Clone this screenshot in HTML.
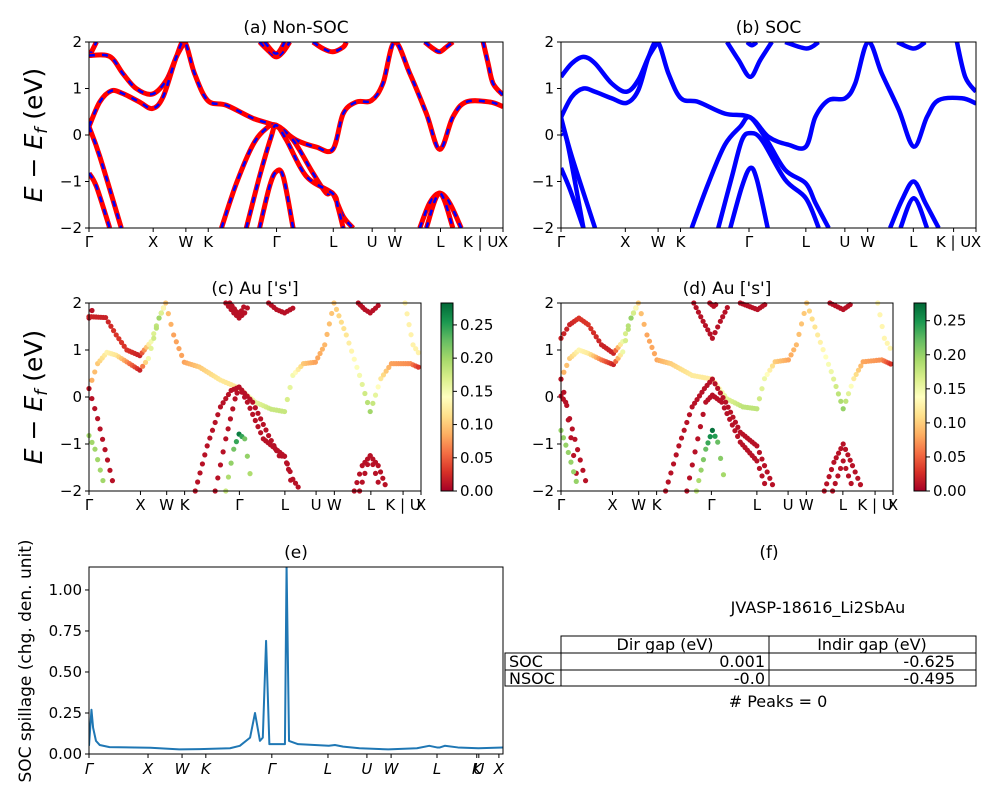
<!DOCTYPE html>
<html><head><meta charset="utf-8"><style>
html,body{margin:0;padding:0;background:#fff}
svg{display:block;font-family:"DejaVu Sans","Liberation Sans",sans-serif}
</style></head><body>
<svg id="fig" width="1000" height="800" viewBox="0 0 1000 800" xmlns="http://www.w3.org/2000/svg">
<defs>
<clipPath id="clipA"><rect x="89" y="42" width="414" height="186"/></clipPath>
<clipPath id="clipB"><rect x="561" y="42" width="415" height="186"/></clipPath>
<clipPath id="clipC"><rect x="86" y="300" width="338" height="194"/></clipPath>
<clipPath id="clipD"><rect x="558" y="300" width="338" height="194"/></clipPath>
<clipPath id="clipE"><rect x="89" y="567" width="414" height="187"/></clipPath>
<linearGradient id="cmapGrad" x1="0" y1="1" x2="0" y2="0">
<stop offset="0" stop-color="#a50026"/><stop offset=".1" stop-color="#d73027"/><stop offset=".2" stop-color="#f46d43"/><stop offset=".3" stop-color="#fdae61"/><stop offset=".4" stop-color="#fee08b"/><stop offset=".5" stop-color="#ffffbf"/><stop offset=".6" stop-color="#d9ef8b"/><stop offset=".7" stop-color="#a6d96a"/><stop offset=".8" stop-color="#66bd63"/><stop offset=".9" stop-color="#1a9850"/><stop offset="1" stop-color="#006837"/>
</linearGradient>
</defs>
<g id="root"></g>
<g font-size="16">
<text x="769" y="558" text-anchor="middle" font-size="17">(f)</text>
<text x="818" y="613" text-anchor="middle">JVASP-18616_Li2SbAu</text>
<g fill="none" stroke="#000" stroke-width="1">
<rect x="561" y="636" width="415" height="50"/>
<rect x="505" y="653" width="471" height="33"/>
<line x1="561" y1="653" x2="561" y2="686"/>
<line x1="769" y1="636" x2="769" y2="686"/>
<line x1="505" y1="670" x2="976" y2="670"/>
</g>
<text x="665" y="650" text-anchor="middle">Dir gap (eV)</text>
<text x="872" y="650" text-anchor="middle">Indir gap (eV)</text>
<text x="509" y="667">SOC</text>
<text x="765" y="667" text-anchor="end">0.001</text>
<text x="955" y="667" text-anchor="end">-0.625</text>
<text x="509" y="684">NSOC</text>
<text x="765" y="684" text-anchor="end">-0.0</text>
<text x="955" y="684" text-anchor="end">-0.495</text>
<text x="778" y="707" text-anchor="middle"># Peaks = 0</text>
</g>
</svg>
<script>
// ---------- data ----------
const symLabels = ["Γ","X","W","K","Γ","L","U","W","L","K | U","X"];
const symK = [0,0.155,0.234,0.288,0.453,0.590,0.684,0.739,0.849,0.946,1];
const energyTicks = [2,1,0,-1,-2];

const nB0 = [[0,1.68],[0.018,2.0]];
const nB1 = [[0,1.71],[0.05,1.69],[0.082,1.32],[0.114,1.0],[0.153,0.88],[0.187,1.18],[0.211,1.68],[0.231,2.0]];
const nB2 = [[0,0.18],[0.026,0.71],[0.054,0.95],[0.082,0.89],[0.122,0.71],[0.153,0.57],[0.179,0.82],[0.211,1.68],[0.231,2.0],[0.255,1.32],[0.287,0.74],[0.332,0.64],[0.396,0.36],[0.452,0.19],[0.501,-0.11],[0.549,-0.26],[0.589,-0.31],[0.614,0.46],[0.646,0.71],[0.682,0.74],[0.710,1.11],[0.738,2.0],[0.775,1.32],[0.815,0.46],[0.847,-0.31],[0.879,0.39],[0.911,0.71],[0.968,0.71],[1,0.61]];
const nB3 = [[0,0.18],[0.026,-0.46],[0.078,-2]];
const nB4 = [[0,-0.82],[0.018,-1.11],[0.05,-2]];
const nB5 = [[0.320,-2],[0.356,-1.04],[0.396,-0.21],[0.428,0.14],[0.452,0.21],[0.493,-0.11],[0.541,-0.82],[0.573,-1.25],[0.589,-1.26],[0.614,-1.75],[0.638,-2]];
const nB6 = [[0.380,-2],[0.412,-0.89],[0.440,-0.04],[0.452,0.21],[0.477,-0.11],[0.525,-0.89],[0.589,-1.26],[0.601,-1.54],[0.614,-2]];
const nB7 = [[0.412,-2],[0.436,-1.11],[0.452,-0.79],[0.469,-0.89],[0.493,-2]];
const nB8 = [[0.799,-2],[0.823,-1.46],[0.847,-1.25],[0.871,-1.46],[0.899,-2]];
const nB9 = [[0.815,-2],[0.847,-1.25],[0.879,-2]];
const nT1 = [[0.412,2],[0.436,1.79],[0.452,1.68],[0.469,1.79],[0.485,2]];
const nT2 = [[0.424,2],[0.452,1.75],[0.473,2]];
const nT3 = [[0.541,2],[0.565,1.86],[0.589,1.79],[0.614,1.89],[0.622,2]];
const nT4 = [[0.811,2],[0.831,1.86],[0.847,1.79],[0.863,1.89],[0.879,2]];
const nT5 = [[0.952,2],[0.964,1.54],[0.976,1.11],[1,0.86]];

const sB1 = [[0,1.25],[0.026,1.54],[0.054,1.68],[0.082,1.54],[0.122,1.11],[0.158,0.93],[0.186,1.18],[0.211,1.68],[0.233,2.0]];
const sB2 = [[0,0.38],[0.026,0.82],[0.054,1.0],[0.082,0.93],[0.122,0.79],[0.158,0.69],[0.186,0.96],[0.211,1.68],[0.233,2.0],[0.259,1.32],[0.289,0.79],[0.331,0.71],[0.395,0.46],[0.456,0.38],[0.5,-0.04],[0.548,-0.21],[0.590,-0.25],[0.613,0.39],[0.645,0.75],[0.685,0.79],[0.709,1.11],[0.740,2.0],[0.773,1.32],[0.814,0.54],[0.85,-0.25],[0.882,0.39],[0.91,0.75],[0.966,0.79],[1,0.68]];
const sB3 = [[0,0.38],[0.026,-0.46],[0.082,-2]];
const sB4 = [[0,0.02],[0.014,-0.11],[0.054,-2]];
const sB5 = [[0,-0.71],[0.022,-1.18],[0.054,-2]];
const sB6 = [[0.315,-2],[0.355,-1.04],[0.395,-0.21],[0.432,0.18],[0.456,0.38],[0.496,-0.11],[0.540,-0.75],[0.590,-1.04],[0.613,-1.46],[0.645,-2]];
const sB7 = [[0.379,-2],[0.412,-0.89],[0.436,-0.11],[0.456,0.04],[0.484,-0.11],[0.540,-0.96],[0.590,-1.36],[0.621,-2]];
const sB8 = [[0.408,-2],[0.436,-1.11],[0.456,-0.71],[0.472,-0.96],[0.498,-2]];
const sB9 = [[0.793,-2],[0.822,-1.39],[0.85,-1.0],[0.878,-1.46],[0.91,-2]];
const sB10 = [[0.818,-2],[0.85,-1.36],[0.882,-2]];
const sT1 = [[0.4,2],[0.428,1.61],[0.456,1.25],[0.48,1.61],[0.508,2]];
const sT2 = [[0.448,2],[0.46,1.93],[0.472,2]];
const sT3 = [[0.54,2],[0.592,1.86],[0.621,2]];
const sT4 = [[0.81,2],[0.85,1.86],[0.878,2]];
const sT5 = [[0.954,2],[0.974,1.25],[1,0.93]];

const wBand1 = [0.02,0.02,0.03,0.03,0.02,0.15,0.2,0.2];
const wBand1s = [0.02,0.02,0.03,0.03,0.02,0.02,0.15,0.2,0.2];
const wBand2 = [0.08,0.1,0.13,0.12,0.06,0.02,0.15,0.2,0.1,0.08,0.08,0.1,0.12,0.12,0.16,0.18,0.18,0.15,0.1,0.08,0.09,0.1,0.12,0.15,0.2,0.12,0.08,0.07,0.02];
const wRed = 0.01;
const wGreen = 0.2;
const wPeak = [0.18,0.22,0.27,0.22,0.18];

const nsocBands = [nB0,nB1,nB2,nB3,nB4,nB5,nB6,nB7,nB8,nB9,nT1,nT2,nT3,nT4,nT5];
const socBands = [sB1,sB2,sB3,sB4,sB5,sB6,sB7,sB8,sB9,sB10,sT1,sT2,sT3,sT4,sT5];
const nsocWeights = [wRed,wBand1,wBand2,wRed,wGreen,wRed,wRed,wPeak,wRed,wRed,wRed,wRed,wRed,wRed,0.13];
const socWeights = [wBand1s,wBand2,wRed,wRed,wGreen,wRed,wRed,wPeak,wRed,wRed,wRed,wRed,wRed,wRed,0.13];

const spillK = [0,0.006,0.01,0.017,0.026,0.05,0.15,0.22,0.27,0.344,0.368,0.393,0.405,0.417,0.424,0.432,0.44,0.442,0.451,0.478,0.482,0.488,0.51,0.585,0.6,0.62,0.66,0.73,0.8,0.83,0.849,0.856,0.868,0.9,0.95,1.01];
const spillV = [0.05,0.27,0.16,0.08,0.055,0.042,0.038,0.028,0.03,0.035,0.05,0.1,0.25,0.08,0.1,0.69,0.06,0.06,0.06,0.06,1.15,0.08,0.06,0.05,0.055,0.045,0.035,0.028,0.035,0.05,0.04,0.04,0.05,0.04,0.035,0.04];
const spillTicks = [0,0.25,0.5,0.75,1.0];
const spillXK = [0,0.144,0.227,0.285,0.446,0.583,0.678,0.737,0.849,0.946,0.951,1.0];
const spillXLabels = ["Γ","X","W","K","Γ","L","U","W","L","K","U","X"];
const cbTicks = [0,0.05,0.10,0.15,0.20,0.25];

// ---------- helpers ----------
const NS="http://www.w3.org/2000/svg";
const root=document.getElementById('root');
function el(tag,attrs,parent){const e=document.createElementNS(NS,tag);for(const k in attrs)e.setAttribute(k,attrs[k]);(parent||root).appendChild(e);return e;}
function txt(s,attrs,parent){const t=el('text',attrs,parent);t.textContent=s;return t;}
function smoothPath(pts){
  if(pts.length<3){return 'M'+pts.map(p=>p[0].toFixed(2)+','+p[1].toFixed(2)).join('L');}
  let d='M'+pts[0][0].toFixed(2)+','+pts[0][1].toFixed(2);
  for(let i=0;i<pts.length-1;i++){
    const p0=pts[i-1]||pts[i],p1=pts[i],p2=pts[i+1],p3=pts[i+2]||p2;
    const c1=[p1[0]+(p2[0]-p0[0])/6,p1[1]+(p2[1]-p0[1])/6];
    const c2=[p2[0]-(p3[0]-p1[0])/6,p2[1]-(p3[1]-p1[1])/6];
    d+='C'+c1[0].toFixed(2)+','+c1[1].toFixed(2)+' '+c2[0].toFixed(2)+','+c2[1].toFixed(2)+' '+p2[0].toFixed(2)+','+p2[1].toFixed(2);
  }
  return d;
}
const cmStops=[[165,0,38],[215,48,39],[244,109,67],[253,174,97],[254,224,139],[255,255,191],[217,239,139],[166,217,106],[102,189,99],[26,152,80],[0,104,55]];
function cmap(t){t=Math.max(0,Math.min(1,t));const f=t*10,i=Math.min(9,Math.floor(f)),r=f-i;const a=cmStops[i],b=cmStops[i+1];return 'rgb('+a.map((v,j)=>Math.round(v+(b[j]-v)*r)).join(',')+')';}

function bandAxes(name,x0,x1,y0,y1,title,showYLabel){
  const g=el('g',{});
  
  
  const sx=k=>x0+k*(x1-x0), sy=E=>y0+(2-E)/4*(y1-y0);
  const t=txt(title,{x:(x0+x1)/2,y:y0-9,'text-anchor':'middle','font-size':17},g);
  
  
  energyTicks.forEach(v=>{
    el('line',{x1:x0-4,x2:x0,y1:sy(v),y2:sy(v),stroke:'#000','stroke-width':1},g);
    const tl=txt(v<0?'\u2212'+Math.abs(v):String(v),{x:x0-7,y:sy(v)+5,'text-anchor':'end','font-size':15},g);
    
    
  });
  symK.forEach((k,i)=>{
    el('line',{x1:sx(k),x2:sx(k),y1:y1,y2:y1+4,stroke:'#000','stroke-width':1},g);
    const tl=txt(symLabels[i],{x:sx(k),y:y1+19,'text-anchor':'middle','font-size':15},g);
    
    
  });
  if(showYLabel){
    const yl=txt('',{transform:'translate(42,'+((y0+y1)/2)+') rotate(-90)','text-anchor':'middle','font-size':25},g);
    
    
    yl.innerHTML='<tspan font-style="italic">E</tspan> \u2212 <tspan font-style="italic">E</tspan><tspan font-style="italic" font-size="17" dy="5">f</tspan><tspan dy="-5"> (eV)</tspan>';
  }
  return {g,sx,sy};
}
function frame(g,x0,x1,y0,y1){el('rect',{x:x0,y:y0,width:x1-x0,height:y1-y0,fill:'none',stroke:'#000','stroke-width':1},g);}

(function(){
  const x0=89,x1=503,y0=42,y1=228;
  const {g,sx,sy}=bandAxes('panel-a-nonsoc',x0,x1,y0,y1,'(a) Non-SOC',true);
  const cg=el('g',{'clip-path':'url(#clipA)'},g);
  nsocBands.forEach((b,i)=>{
    const pts=b.map(p=>[sx(p[0]),sy(p[1])]);
    const d=smoothPath(pts);
    const r=el('path',{d:d,fill:'none',stroke:'#ff0000','stroke-width':5,'stroke-linejoin':'round'},cg);
    
    
    const bl=el('path',{d:d,fill:'none',stroke:'#0000ff','stroke-width':2.5,'stroke-dasharray':'6 7'},cg);
    
    
  });
  frame(g,x0,x1,y0,y1);
})();
(function(){
  const x0=561,x1=976,y0=42,y1=228;
  const {g,sx,sy}=bandAxes('panel-b-soc',x0,x1,y0,y1,'(b) SOC',false);
  const cg=el('g',{'clip-path':'url(#clipB)'},g);
  socBands.forEach((b,i)=>{
    const pts=b.map(p=>[sx(p[0]),sy(p[1])]);
    const p=el('path',{d:smoothPath(pts),fill:'none',stroke:'#0000ff','stroke-width':4.5,'stroke-linejoin':'round'},cg);
    
    
  });
  frame(g,x0,x1,y0,y1);
})();
function weightAt(w,b,k,idx,frac){
  if(typeof w==='number')return w;
  const a=w[idx],c=w[Math.min(idx+1,w.length-1)];return a+(c-a)*frac;
}
function scatterPanel(name,x0,x1,y0,y1,title,bands,weights,clip,cbx,vmax,showY){
  const {g,sx,sy}=bandAxes(name,x0,x1,y0,y1,title,showY);
  const cg=el('g',{'clip-path':'url('+clip+')'},g);
  bands.forEach((b,bi)=>{
    const w=weights[bi];
    for(let i=0;i<b.length-1;i++){
      const dk=b[i+1][0]-b[i][0];
      const n=Math.max(1,Math.round(Math.abs(dk)/0.0075));
      for(let j=0;j<n;j++){
        const f=j/n;
        const k=b[i][0]+dk*f, E=b[i][1]+(b[i+1][1]-b[i][1])*f;
        if(E>2.05||E<-2.05)continue;
        const wv=weightAt(w,b,k,i,f);
        const c=el('circle',{cx:sx(k).toFixed(2),cy:sy(E).toFixed(2),r:2.6,fill:cmap(wv/vmax)},cg);
        
        
      }
    }
  });
  frame(g,x0,x1,y0,y1);
  const cb=el('g',{});
  
  
  el('rect',{x:cbx,y:y0,width:12,height:y1-y0,fill:'url(#cmapGrad)',stroke:'#000','stroke-width':1},cb);
  cbTicks.forEach(v=>{
    const y=y1-v/vmax*(y1-y0);
    el('line',{x1:cbx+12,x2:cbx+16,y1:y,y2:y,stroke:'#000'},cb);
    const t=txt(v.toFixed(2),{x:cbx+19,y:y+5,'font-size':15},cb);
    
    
  });
}
scatterPanel('panel-c-au-s-nonsoc',89,421,303,491,"(c)  Au ['s']",nsocBands,nsocWeights,'#clipC',441,0.283,true);
scatterPanel('panel-d-au-s-soc',561,893,303,491,"(d) Au ['s']",socBands,socWeights,'#clipD',914,0.276,false);

(function(){
  const x0=89,x1=503,y0=567,y1=754, kmax=1.01, vmax=1.14;
  const g=el('g',{});
  
  
  const sx=k=>x0+k/kmax*(x1-x0), sy=v=>y1-v/vmax*(y1-y0);
  const t=txt('(e)',{x:(x0+x1)/2,y:y0-9,'text-anchor':'middle','font-size':17},g);
  
  
  spillTicks.forEach(v=>{
    el('line',{x1:x0-4,x2:x0,y1:sy(v),y2:sy(v),stroke:'#000'},g);
    const tl=txt(v.toFixed(2),{x:x0-7,y:sy(v)+5,'text-anchor':'end','font-size':15},g);
    
    
  });
  spillXK.forEach((k,i)=>{
    el('line',{x1:sx(k),x2:sx(k),y1:y1,y2:y1+4,stroke:'#000'},g);
    const tl=txt(spillXLabels[i],{x:sx(k),y:y1+20,'text-anchor':'middle','font-size':15,'font-style':'italic'},g);
    
    
  });
  const yl=txt('SOC spillage (chg. den. unit)',{transform:'translate(31,661) rotate(-90)','text-anchor':'middle','font-size':17},g);
  
  
  const cg=el('g',{'clip-path':'url(#clipE)'},g);
  const d='M'+spillK.map((k,i)=>sx(k).toFixed(2)+','+sy(spillV[i]).toFixed(2)).join('L');
  const p=el('path',{d:d,fill:'none',stroke:'#1f77b4','stroke-width':2,'stroke-linejoin':'round'},cg);
  
  
  frame(g,x0,x1,y0,y1);
})();
</script>
</body></html>
